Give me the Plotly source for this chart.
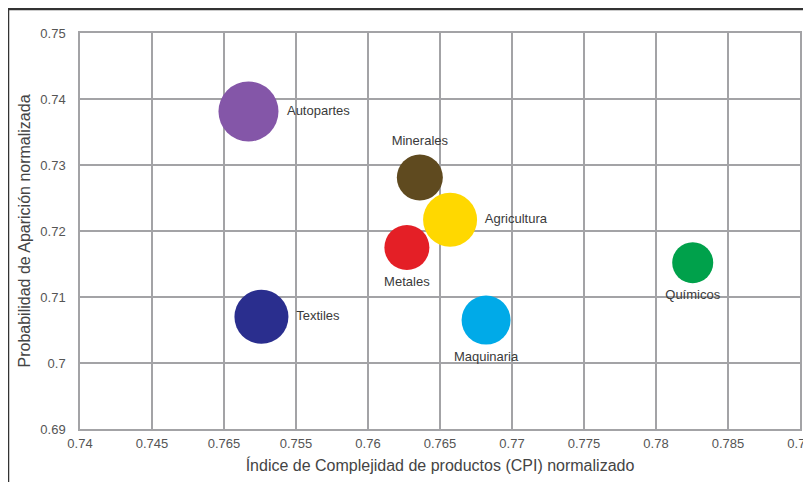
import plotly.graph_objects as go

sectors = ["Autopartes", "Textiles", "Minerales", "Agricultura", "Metales", "Maquinaria", "Químicos"]
cpi = [0.7517, 0.7526, 0.7636, 0.7657, 0.7627, 0.7682, 0.78255]
prob = [0.7381, 0.7070, 0.7281, 0.7217, 0.7175, 0.7065, 0.7152]
bubble_size = [60, 54, 46, 54, 45, 49, 41]
colors = ["#8456A8", "#2A2E8E", "#5F4A1F", "#FFD800", "#E41F26", "#00AAE8", "#00A14B"]
label_pos = ["middle right", "middle right", "top center", "middle right",
             "bottom center", "bottom center", "bottom center"]

x_ticks = [0.74, 0.745, 0.75, 0.755, 0.76, 0.765, 0.77, 0.775, 0.78, 0.785, 0.79]
x_tick_labels = ["0.74", "0.745", "0.765", "0.755", "0.76", "0.765", "0.77", "0.775", "0.78", "0.785", "0.79"]
y_ticks = [0.69, 0.70, 0.71, 0.72, 0.73, 0.74, 0.75]
y_tick_labels = ["0.69", "0.7", "0.71", "0.72", "0.73", "0.74", "0.75"]

font_family = "Liberation Sans, Arial, sans-serif"

fig = go.Figure()
fig.add_trace(go.Scatter(
    x=cpi, y=prob, mode="markers+text",
    text=sectors, textposition=label_pos,
    textfont=dict(family=font_family, size=13, color="#3a3a3a"),
    marker=dict(size=bubble_size, sizemode="diameter", color=colors, opacity=1,
                line=dict(width=0)),
    hoverinfo="text", showlegend=False, cliponaxis=False,
))

grid_color = "#A3A3A6"
fig.update_layout(
    width=811, height=482,
    margin=dict(l=72, r=19, t=25, b=61, autoexpand=False),
    paper_bgcolor="white", plot_bgcolor="white",
    font=dict(family=font_family, color="#555555"),
    xaxis=dict(range=[0.74, 0.79], tickvals=x_ticks, ticktext=x_tick_labels,
               showgrid=True, gridcolor=grid_color, gridwidth=1.5,
               showline=True, linecolor=grid_color, linewidth=1.5, mirror=True,
               zeroline=False, ticks="", tickfont=dict(size=13, color="#555555"),
               automargin=False, ticklabelstandoff=2,
               title=dict(text="Índice de Complejidad de productos (CPI) normalizado",
                          font=dict(size=16, color="#444444"), standoff=9)),
    yaxis=dict(range=[0.69, 0.75], tickvals=y_ticks, ticktext=y_tick_labels,
               showgrid=True, gridcolor=grid_color, gridwidth=1.5,
               showline=True, linecolor=grid_color, linewidth=1.5, mirror=True,
               zeroline=False, ticks="", tickfont=dict(size=13, color="#555555"),
               automargin=False, ticklabelstandoff=10,
               title=dict(text="Probabilidad de Aparición normalizada",
                          font=dict(size=16, color="#444444"), standoff=6)),
    shapes=[dict(type="rect", xref="paper", yref="paper",
                 x0=-0.1, x1=1.2, y0=-0.3, y1=1.0606,
                 line=dict(color="#333333", width=2.5), layer="above")],
)

fig.write_html("out.html")
